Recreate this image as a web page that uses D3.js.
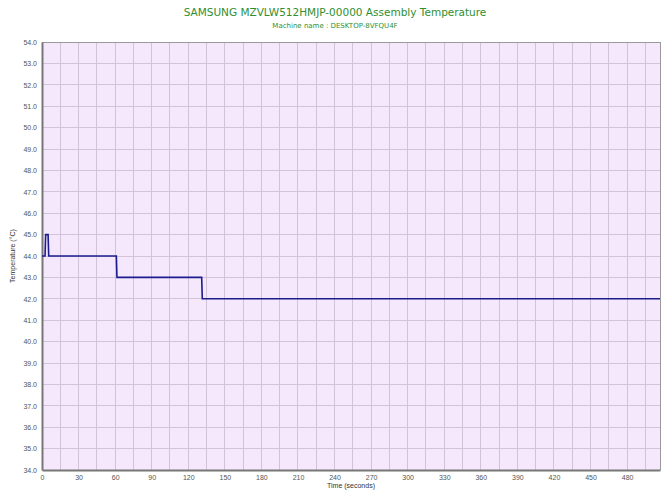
<!DOCTYPE html>
<html><head><meta charset="utf-8">
<script src="https://cdn.jsdelivr.net/npm/d3@7"></script>
<style>body{margin:0;background:#fff}</style>
</head><body>
<svg id="c" width="670" height="502"></svg>
<script>
const titleText = "SAMSUNG MZVLW512HMJP-00000 Assembly Temperature";
const subtitleText = "Machine name : DESKTOP-8VFQU4F";
const xLabel = "Time (seconds)";
const yLabel = "Temperature (°C)";
const timeSec = [0, 2.5, 3, 5, 5.5, 61, 61.5, 131, 131.5, 507];
const tempC   = [44, 44, 45, 45, 44, 44, 43, 43, 42, 42];
const xTicks = d3.range(0, 481, 30);
const xGrid = d3.range(0, 507, 15);
const yTicks = d3.range(34, 54.01, 1);

const svg = d3.select("#c");
const m = {l:42, r:660, t:42, b:470};
const x = d3.scaleLinear().domain([0, 507]).range([m.l, m.r]);
const y = d3.scaleLinear().domain([34, 54]).range([m.b, m.t]);

svg.append("rect").attr("x", m.l).attr("y", m.t).attr("width", m.r-m.l).attr("height", m.b-m.t).attr("fill", "#f5e8fd");

const g = svg.append("g");
g.selectAll("line.vx").data(xGrid.filter(d => d > 0)).join("line")
  .attr("x1", d => x(d)).attr("x2", d => x(d)).attr("y1", m.t).attr("y2", m.b)
  .attr("stroke", "#d3c3d8").attr("stroke-width", 1).attr("shape-rendering","crispEdges");
g.selectAll("line.hy").data(yTicks.filter(d => d > 34 && d < 54)).join("line")
  .attr("y1", d => y(d)).attr("y2", d => y(d)).attr("x1", m.l).attr("x2", m.r)
  .attr("stroke", "#d3c3d8").attr("stroke-width", 1).attr("shape-rendering","crispEdges");

svg.append("line").attr("x1", m.l).attr("x2", m.r).attr("y1", m.t).attr("y2", m.t).attr("stroke","#999").attr("shape-rendering","crispEdges");
svg.append("line").attr("x1", m.r).attr("x2", m.r).attr("y1", m.t).attr("y2", m.b).attr("stroke","#999").attr("shape-rendering","crispEdges");

const xa = svg.append("g").attr("transform", `translate(0,${m.b})`)
  .call(d3.axisBottom(x).tickValues(xTicks).tickSize(0).tickPadding(5).tickFormat(d3.format("d")));
const ya = svg.append("g").attr("transform", `translate(${m.l},0)`)
  .call(d3.axisLeft(y).tickValues(yTicks).tickSize(0).tickPadding(5).tickFormat(d3.format(".1f")));
[xa, ya].forEach(a => {
  a.select(".domain").attr("stroke", "#777").attr("stroke-width", 2);
  a.selectAll("text").attr("fill", "#555").style("font-family", "Liberation Sans, Arial, sans-serif").style("font-size", "7px");
});

const pts = timeSec.map((t, i) => [t, tempC[i]]);
svg.append("path").datum(pts)
  .attr("d", d3.line().x(d => x(d[0])).y(d => y(d[1])))
  .attr("fill", "none").attr("stroke", "#1c1c8c").attr("stroke-width", 1.6);

svg.append("text").attr("x", 335).attr("y", 16).attr("text-anchor", "middle")
  .attr("fill", "#2f8f2f").style("font-family", "DejaVu Sans, Verdana, sans-serif").style("font-size", "10.5px").text(titleText);
svg.append("text").attr("x", 335).attr("y", 28).attr("text-anchor", "middle")
  .attr("fill", "#2f8f2f").style("font-family", "DejaVu Sans, Verdana, sans-serif").style("font-size", "7px").text(subtitleText);
svg.append("text").attr("x", 351).attr("y", 488).attr("text-anchor", "middle")
  .attr("fill", "#333").style("font-family", "Liberation Sans, Arial, sans-serif").style("font-size", "7px").text(xLabel);
svg.append("text").attr("transform", "translate(15,256) rotate(-90)").attr("text-anchor", "middle")
  .attr("fill", "#333").style("font-family", "Liberation Sans, Arial, sans-serif").style("font-size", "7px").text(yLabel);
</script>
</body></html>
